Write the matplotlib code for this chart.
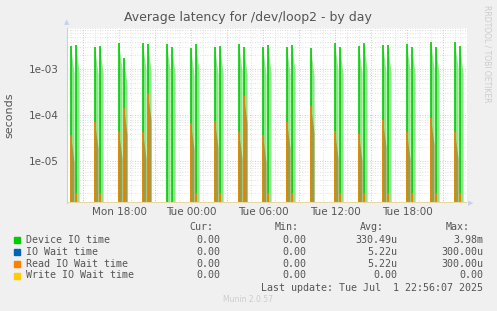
import numpy as np
import matplotlib
matplotlib.use("Agg")
import matplotlib.pyplot as plt
from matplotlib.ticker import FixedLocator, NullFormatter

# ---- data (hours since Mon 00:00) ----
pair_start = [14, 16, 18, 20, 22, 24, 26, 28, 30, 32, 34, 36, 38, 40, 42, 44, 46]
second_offset = 25 / 60.0
device_first = [3.2e-3, 3.05e-3, 3.8e-3, 3.7e-3, 3.55e-3, 2.9e-3, 3.05e-3, 3.55e-3, 3.05e-3,
                3.05e-3, 2.85e-3, 3.7e-3, 3.2e-3, 3.4e-3, 3.55e-3, 3.98e-3, 4.0e-3]
device_second = [3.4e-3, 3.2e-3, 1.79e-3, 3.6e-3, 3.05e-3, 3.55e-3, 3.2e-3, 3.05e-3, 3.4e-3,
                 3.4e-3, np.nan, 3.05e-3, 3.8e-3, 3.4e-3, 3.05e-3, 3.05e-3, 3.2e-3]
read_first = [3.7e-5, 7.3e-5, 4.4e-5, 4.4e-5, np.nan, 6.9e-5, 7.6e-5, 4.4e-5, 3.7e-5,
              7.3e-5, 1.6e-4, 4.5e-5, 3.9e-5, 7.9e-5, 4.3e-5, 8.9e-5, 4.4e-5]
read_second = [2e-6, 2e-6, 1.47e-4, 3.0e-4, np.nan, 2e-6, 2e-6, 2.6e-4, 2e-6,
               2e-6, np.nan, 2e-6, 2e-6, 2e-6, 2e-6, 2e-6, 2e-6]

x_start, x_end = 13 + 40 / 60.0, 47.0
y_min, y_max = 1.24e-6, 7.9e-3
tick_hours = [18, 24, 30, 36, 42]
tick_labels = ["Mon 18:00", "Tue 00:00", "Tue 06:00", "Tue 12:00", "Tue 18:00"]

legend_names = ["Device IO time", "IO Wait time", "Read IO Wait time", "Write IO Wait time"]
legend_colors = ["#00cc00", "#0066b3", "#ff8000", "#ffcc00"]
cur_vals = ["0.00", "0.00", "0.00", "0.00"]
min_vals = ["0.00", "0.00", "0.00", "0.00"]
avg_vals = ["330.49u", "5.22u", "5.22u", "0.00"]
max_vals = ["3.98m", "300.00u", "300.00u", "0.00"]

W, H = 497, 311
fig = plt.figure(figsize=(W / 100, H / 100), dpi=100, facecolor="#f0f0f0")
ax = fig.add_axes([67 / W, (H - 203) / H, 400 / W, 175 / H], facecolor="white")
ax.set_yscale("log")
ax.set_xlim(x_start, x_end)
ax.set_ylim(y_min, y_max)

# ---- grid ----
minor_y = [m * 10.0 ** e for e in range(-6, -2) for m in range(2, 10)]
for y in minor_y:
    ax.axhline(y, color="#d8d8d8", lw=0.6, ls=(0, (1, 2)), zorder=0)
for y in [1e-5, 1e-4, 1e-3]:
    ax.axhline(y, color="#e8a8a8", lw=0.6, ls=(0, (1, 2)), zorder=0)
for h in range(14, 47):
    col = "#e8a8a8" if h % 3 == 0 else "#d8d8d8"
    ax.axvline(h, color=col, lw=0.6, ls=(0, (1, 2)), zorder=0)

# ---- spikes ----
floor = 1e-8
wedge = 0.3
green, light_green = "#00cc00", "#70e070"
orange = "#ff8000"


def spike(t, v, line_col, fill_col, alpha, z):
    if np.isnan(v):
        return
    ax.fill([t, t, t + wedge, t + wedge], [y_min, v, v / 4, y_min],
            color=fill_col, alpha=alpha, lw=0, zorder=z)
    ax.vlines(t, floor, v, color=line_col, lw=1.2, zorder=z + 0.5)


for i, t0 in enumerate(pair_start):
    t1 = t0 + second_offset
    spike(t0, device_first[i], green, light_green, 0.8, 2)
    spike(t1, device_second[i], green, light_green, 0.8, 2)
    spike(t0, read_first[i], orange, "#a05a10", 0.5, 3)
    spike(t1, read_second[i], orange, "#a05a10", 0.5, 3)

# write IO wait time is zero -> drawn on the bottom edge
ax.axhline(y_min * 1.02, color="#e8d8a0", lw=1.5, zorder=5)

# ---- axes styling ----
for s in ["top", "right", "bottom"]:
    ax.spines[s].set_visible(False)
ax.spines["left"].set_color("#c8d0e8")
ax.yaxis.set_major_locator(FixedLocator([1e-5, 1e-4, 1e-3]))
ax.yaxis.set_minor_locator(FixedLocator([]))
ax.yaxis.set_minor_formatter(NullFormatter())
ax.set_yticklabels(["1e-05", "1e-04", "1e-03"])
ax.set_xticks(tick_hours)
ax.set_xticklabels(tick_labels)
ax.tick_params(axis="both", length=0, labelsize=7.5, colors="#555555", pad=3)
ax.tick_params(axis="y", pad=6)
ax.set_ylabel("seconds", fontsize=8, color="#555555", labelpad=10)

# axis arrows
fig.text(67 / W, 1 - 22 / H, "\u25B2", color="#c8d0f0", fontsize=5, ha="center", va="center")
fig.text(471 / W, 1 - 203 / H, "\u25B6", color="#c8d0f0", fontsize=5, ha="center", va="center")

fig.text(248 / W, 1 - 18 / H, "Average latency for /dev/loop2 - by day",
         ha="center", va="center", fontsize=9, color="#555555")
fig.text(487 / W, 1 - 5 / H, "RRDTOOL / TOBI OETIKER", rotation=270, ha="center", va="top",
         fontsize=5.5, color="#cccccc")

# ---- legend ----
mono = "DejaVu Sans Mono"
fs = 7.2
hdr_y = 227
for txt, xr in [("Cur:", 213), ("Min:", 299), ("Avg:", 384), ("Max:", 470)]:
    fig.text(xr / W, 1 - hdr_y / H, txt, ha="right", va="center", family=mono, fontsize=fs, color="#555555")
row_y = [240, 252, 264, 275.5]
for i, name in enumerate(legend_names):
    y = 1 - row_y[i] / H
    fig.patches.append(plt.Rectangle((14 / W, y - 3 / H), 6 / W, 6 / H, transform=fig.transFigure,
                                     color=legend_colors[i]))
    fig.text(26 / W, y, name, ha="left", va="center", family=mono, fontsize=fs, color="#555555")
    for vals, xr in [(cur_vals, 220), (min_vals, 306), (avg_vals, 397), (max_vals, 483)]:
        fig.text(xr / W, y, vals[i], ha="right", va="center", family=mono, fontsize=fs, color="#555555")
fig.text(483 / W, 1 - 288 / H, "Last update: Tue Jul  1 22:56:07 2025", ha="right", va="center",
         family=mono, fontsize=fs, color="#555555")
fig.text(248 / W, 1 - 300 / H, "Munin 2.0.57", ha="center", va="center", fontsize=5.5, color="#cccccc")

fig.savefig("out.png", dpi=100, facecolor=fig.get_facecolor())
